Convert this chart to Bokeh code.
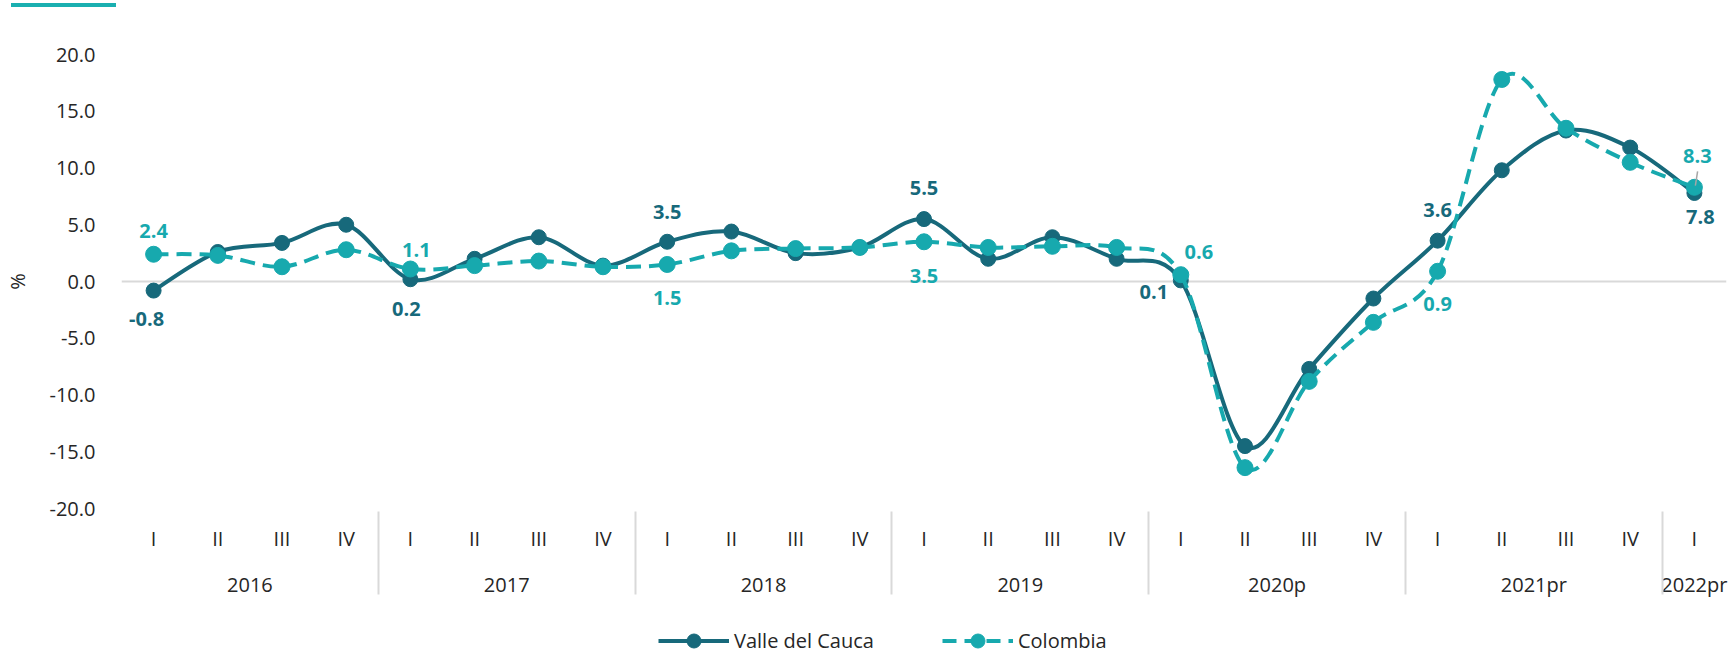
from bokeh.plotting import figure
from bokeh.models import (FactorRange, ColumnDataSource, Range1d, FixedTicker, Span,
                          Legend, LegendItem, NumeralTickFormatter, Div)
from bokeh.layouts import column
from bokeh.embed import file_html
from bokeh.resources import INLINE
from bokeh.core.properties import value

# ---------------- data ----------------
years = ["2016", "2017", "2018", "2019", "2020p", "2021pr", "2022pr"]
quarters = ["I", "II", "III", "IV"]
quarters_per_year = [4, 4, 4, 4, 4, 4, 1]

valle_del_cauca = [-0.8, 2.6, 3.4, 5.0,
                   0.2, 2.0, 3.9, 1.4,
                   3.5, 4.4, 2.5, 3.0,
                   5.5, 2.0, 3.9, 2.0,
                   0.1, -14.5, -7.7, -1.5,
                   3.6, 9.8, 13.3, 11.8,
                   7.8]
colombia = [2.4, 2.3, 1.3, 2.8,
            1.1, 1.4, 1.8, 1.3,
            1.5, 2.7, 2.9, 3.0,
            3.5, 3.0, 3.1, 3.0,
            0.6, -16.4, -8.8, -3.6,
            0.9, 17.8, 13.5, 10.5,
            8.3]
y_ticks = [-20, -15, -10, -5, 0, 5, 10, 15, 20]
series_names = ["Valle del Cauca", "Colombia"]

# label placement (pixels, screen: +dy = down), only for first quarters
valle_lbl_dx = [-7, -4, 0, 0, -27, 0, 6]
valle_lbl_dy = [28, 30, -30, -31, 12, -31, 24]
col_lbl_dx = [0, 6, 0, 0, 18, 0, 3]
col_lbl_dy = [-23, -19, 34, 34, -23, 33, -31]

# ---------------- style ----------------
FONT = "Open Sans"
DARK = "#17697B"
TEAL = "#17A9AE"
TXT = "#262626"
GRID = "#D9D9D9"
FS = "20px"
W = 1731

periods = [(y, q) for y, n in zip(years, quarters_per_year) for q in quarters[:n]]

p = figure(width=W, height=612, title=None,
           x_range=FactorRange(factors=periods, factor_padding=0, group_padding=0,
                               subgroup_padding=0, range_padding=0),
           y_range=Range1d(-20, 20),
           output_backend="svg", toolbar_location=None,
           min_border_left=117, min_border_right=5, min_border_top=47, min_border_bottom=111)
p.outline_line_color = None
p.xgrid.grid_line_color = None
p.ygrid.grid_line_color = None
p.background_fill_color = "white"

# y axis
p.yaxis.ticker = FixedTicker(ticks=y_ticks)
p.yaxis.formatter = NumeralTickFormatter(format="0.0")
p.yaxis.axis_line_color = None
p.yaxis.major_tick_line_color = None
p.yaxis.minor_tick_line_color = None
p.yaxis.major_label_text_font = FONT
p.yaxis.major_label_text_font_size = FS
p.yaxis.major_label_text_color = TXT
p.yaxis.major_label_standoff = 20
p.yaxis.axis_label = "%"
p.yaxis.axis_label_text_font = FONT
p.yaxis.axis_label_text_font_size = FS
p.yaxis.axis_label_text_font_style = "normal"
p.yaxis.axis_label_text_color = TXT
p.yaxis.axis_label_standoff = 16

# x axis (nested categories)
xa = p.xaxis[0]
xa.axis_line_color = None
xa.major_tick_line_color = None
xa.major_tick_out = 0
xa.major_tick_in = 0
xa.major_label_standoff = 16
xa.major_label_text_font = FONT
xa.major_label_text_font_size = FS
xa.major_label_text_color = TXT
xa.group_text_font = FONT
xa.group_text_font_size = FS
xa.group_text_font_style = "normal"
xa.group_text_color = TXT
xa.separator_line_color = GRID
xa.separator_line_width = 2

p.add_layout(Span(location=0, dimension="width", line_color=GRID, line_width=2, level="underlay"))


def smooth_source(vals):
    n = len(vals)
    d = dict(x0=[], y0=[], x1=[], y1=[], cx0=[], cy0=[], cx1=[], cy1=[])
    for i in range(n - 1):
        a = max(i - 1, 0)
        b = min(i + 2, n - 1)
        d["x0"].append(periods[i])
        d["y0"].append(vals[i])
        d["x1"].append(periods[i + 1])
        d["y1"].append(vals[i + 1])
        d["cx0"].append(periods[i] + ((i + 1 - a) / 6.0,))
        d["cy0"].append(vals[i] + (vals[i + 1] - vals[a]) / 6.0)
        d["cx1"].append(periods[i + 1] + (-(b - i) / 6.0,))
        d["cy1"].append(vals[i + 1] - (vals[b] - vals[i]) / 6.0)
    return ColumnDataSource(d)


p.bezier(x0="x0", y0="y0", x1="x1", y1="y1", cx0="cx0", cy0="cy0", cx1="cx1", cy1="cy1",
         source=smooth_source(valle_del_cauca), line_color=DARK, line_width=4)
p.scatter(x=periods, y=valle_del_cauca, size=15, fill_color=DARK, line_color=DARK)
p.bezier(x0="x0", y0="y0", x1="x1", y1="y1", cx0="cx0", cy0="cy0", cx1="cx1", cy1="cy1",
         source=smooth_source(colombia), line_color=TEAL, line_width=4, line_dash="15 8")
p.scatter(x=periods, y=colombia, size=16, fill_color=TEAL, line_color=TEAL)

lbl_idx = [i for i, (yr, q) in enumerate(periods) if q == "I"]


def label_source(vals, dx, dy):
    return ColumnDataSource(dict(
        x=[periods[i] for i in lbl_idx],
        y=[vals[i] for i in lbl_idx],
        t=[f"{vals[i]:.1f}" for i in lbl_idx],
        dx=dx, dy=dy))


for vals, dx, dy, col in [(valle_del_cauca, valle_lbl_dx, valle_lbl_dy, DARK),
                          (colombia, col_lbl_dx, col_lbl_dy, TEAL)]:
    p.text(x="x", y="y", text="t", x_offset="dx", y_offset="dy",
           source=label_source(vals, dx, dy),
           text_font=value(FONT), text_font_style="bold", text_font_size=FS,
           text_color=col, text_align="center", text_baseline="middle")

# short leader line from the last Colombia label to its point
last = periods[-1]
p.segment(x0=[last + (0.05,)], y0=[colombia[-1] + 1.4],
          x1=[last + (0.015,)], y1=[colombia[-1] + 0.15],
          line_color="#A6A6A6", line_width=1.5)

# ---------------- legend strip (shares the x scale; its series sit out of view) ----------------
pl = figure(width=W, height=37, title=None, x_range=p.x_range, y_range=Range1d(100, 101),
            x_axis_type=None, y_axis_type=None, output_backend="svg", toolbar_location=None,
            min_border_left=117, min_border_right=5, min_border_top=0, min_border_bottom=0)
pl.outline_line_color = None
pl.grid.grid_line_color = None
lv = pl.line(x=periods, y=valle_del_cauca, line_color=DARK, line_width=4)
sv = pl.scatter(x=periods, y=valle_del_cauca, fill_color=DARK, line_color=DARK)
lc = pl.line(x=periods, y=colombia, line_color=TEAL, line_width=4, line_dash="14 8")
sc = pl.scatter(x=periods, y=colombia, fill_color=TEAL, line_color=TEAL)
legend = Legend(items=[LegendItem(label=series_names[0], renderers=[lv, sv]),
                       LegendItem(label=series_names[1], renderers=[lc, sc])],
                orientation="horizontal", location=(537, -2),
                glyph_width=71, glyph_height=35, label_standoff=5, spacing=68,
                padding=0, margin=0, border_line_color=None, background_fill_alpha=0,
                label_text_font=FONT, label_text_font_size=FS, label_text_color=TXT)
pl.add_layout(legend)

bar = Div(text="", width=105, height=4, margin=(3, 0, 0, 11),
          styles={"background-color": "#1AAFB0"})
layout = column(bar, p, pl, spacing=0)

open("out.html", "w").write(file_html(layout, INLINE))
